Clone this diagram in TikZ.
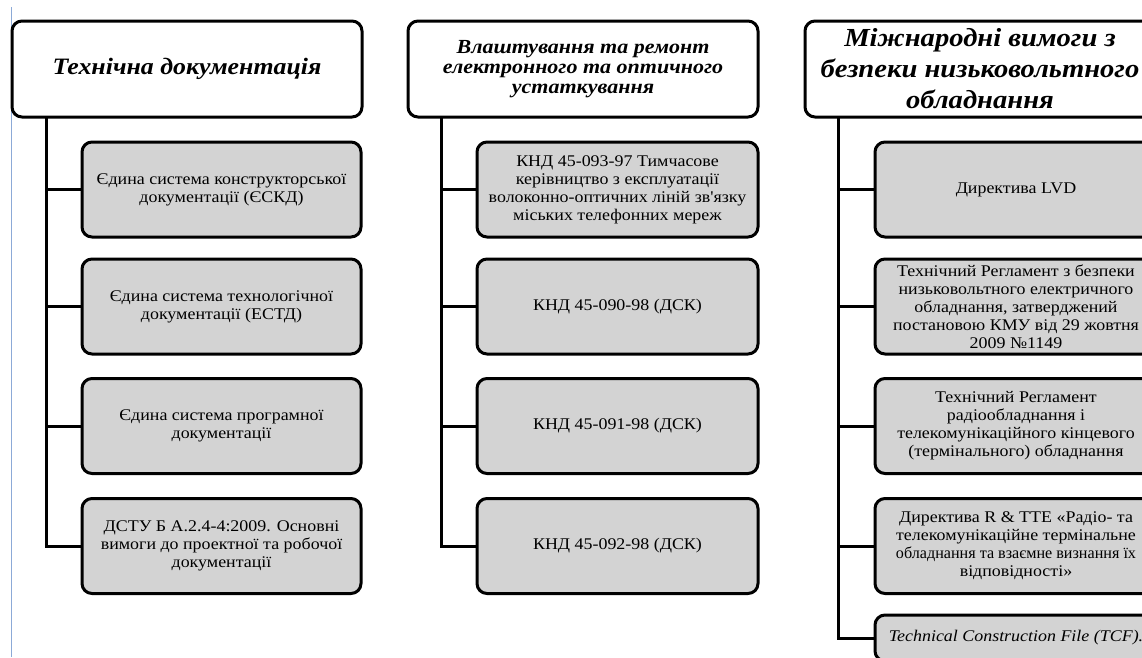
\documentclass[tikz,border=0pt]{standalone}
\usepackage{fontspec}
\setmainfont{Liberation Serif}
\newfontfamily\widefont[FakeStretch=1.1]{Liberation Serif}
\definecolor{boxgray}{RGB}{211,211,211}
\definecolor{marginblue}{RGB}{140,170,215}
\tikzset{
  hdr/.style={draw=black, line width=3pt, rounded corners=10pt, fill=white,
    minimum width=350pt, minimum height=96pt, align=center, inner sep=2pt},
  child/.style={draw=black, line width=3pt, rounded corners=10pt, fill=boxgray,
    minimum height=95pt, align=center, inner sep=2pt,
    font=\widefont\fontsize{16.3}{18}\selectfont},
  conn/.style={draw=black, line width=3pt, line cap=rect}
}
\begin{document}
\begin{tikzpicture}[x=1pt, y=-1pt]
\useasboundingbox (0,0) rectangle (1142,657);
\clip (0,0) rectangle (1142,657);
\draw[marginblue, line width=1.5pt] (11.5,7) -- (11.5,657);

% column 1
\node[hdr, font=\widefont\fontsize{23.5}{28}\selectfont\bfseries\itshape] (h1) at (187,69) {Технічна документація};
\node[child, minimum width=279pt] (c11) at (221.5,189.5) {Єдина система конструкторської\\документації (ЄСКД)};
\node[child, minimum width=279pt] (c12) at (221.5,306.5) {Єдина система технологічної\\документації (ЕСТД)};
\node[child, minimum width=279pt] (c13) at (221.5,426) {Єдина система програмної\\документації};
\node[child, minimum width=279pt] (c14) at (221.5,546) {ДСТУ Б А.2.4-4:2009. Основні\\вимоги до проектної та робочої\\документації};

% column 2
\node[hdr, font=\widefont\fontsize{20}{20}\selectfont\bfseries\itshape] (h2) at (583,69) {Влаштування та  ремонт\\електронного та оптичного\\устаткування};
\node[child, minimum width=281pt] (c21) at (617.5,189.5) {КНД 45-093-97 Тимчасове\\керівництво з експлуатації\\волоконно-оптичних ліній зв'язку\\міських телефонних мереж};
\node[child, minimum width=281pt] (c22) at (617.5,306.5) {КНД 45-090-98 (ДСК)};
\node[child, minimum width=281pt] (c23) at (617.5,426) {КНД 45-091-98 (ДСК)};
\node[child, minimum width=281pt] (c24) at (617.5,546) {КНД 45-092-98 (ДСК)};

% column 3
\node[hdr, font=\widefont\fontsize{26}{31}\selectfont\bfseries\itshape] (h3) at (980,69) {Міжнародні вимоги з\\безпеки низьковольтного\\обладнання};
\node[child, minimum width=282pt] (c31) at (1016,189.5) {Директива LVD};
\node[child, minimum width=282pt] (c32) at (1016,306.5) {Технічний Регламент з безпеки\\низьковольтного електричного\\обладнання, затверджений\\постановою КМУ від 29 жовтня\\2009 №1149};
\node[child, minimum width=282pt] (c33) at (1016,426) {Технічний Регламент\\радіообладнання і\\телекомунікаційного кінцевого\\(термінального) обладнання};
\node[child, minimum width=282pt] (c34) at (1016,546) {Директива R \& TTE «Радіо- та\\телекомунікаційне термінальне\\\scalebox{0.9}[1]{обладнання та взаємне визнання їх}\\відповідності»};
\node[child, minimum width=282pt, minimum height=46pt, font=\widefont\fontsize{16.3}{18}\selectfont\itshape] (c35) at (1016,638) {Technical Construction File (TCF).};

% connectors
\foreach \c in {c11,c12,c13,c14}
  \draw[conn] ([xshift=36pt]h1.south west) |- (\c.west);
\foreach \c in {c21,c22,c23,c24}
  \draw[conn] ([xshift=35pt]h2.south west) |- (\c.west);
\foreach \c in {c31,c32,c33,c34,c35}
  \draw[conn] ([xshift=35pt]h3.south west) |- (\c.west);
\end{tikzpicture}
\end{document}
